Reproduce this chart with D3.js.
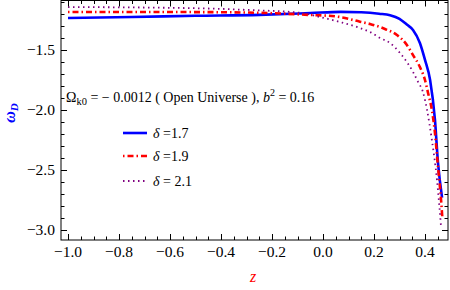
<!DOCTYPE html>
<html>
  <head>
    <meta charset="utf-8">
    <script src="https://cdn.jsdelivr.net/npm/d3@7"></script>
  </head>
  <body style="margin:0">
    <svg id="chart" width="450" height="290" font-family="Liberation Serif" style="font-family: 'Liberation Serif', 'Times New Roman', serif"></svg>
    <script>
// values
var zBlue   = [-1.0, -0.75, -0.5, -0.25, -0.05, 0.07, 0.15, 0.22, 0.263, 0.30, 0.33, 0.353, 0.38, 0.40, 0.42, 0.439, 0.451, 0.467];
var wBlue   = [-1.233, -1.225, -1.215, -1.207, -1.192, -1.182, -1.186, -1.198, -1.21, -1.24, -1.29, -1.333, -1.442, -1.583, -1.75, -2.08, -2.44, -2.73];

var zRed    = [-1.0, -0.5, -0.25, -0.05, 0.05, 0.145, 0.184, 0.243, 0.29, 0.329, 0.353, 0.38, 0.40, 0.412, 0.427, 0.439, 0.451, 0.463, 0.468];
var wRed    = [-1.183, -1.184, -1.19, -1.208, -1.22, -1.264, -1.283, -1.325, -1.375, -1.458, -1.542, -1.642, -1.75, -1.858, -2.0, -2.19, -2.475, -2.75, -2.90];

var zPurple = [-1.0, -0.5, -0.286, -0.09, -0.012, 0.067, 0.145, 0.184, 0.224, 0.263, 0.302, 0.329, 0.353, 0.373, 0.392, 0.408, 0.427, 0.447, 0.463];
var wPurple = [-1.142, -1.152, -1.167, -1.19, -1.225, -1.267, -1.317, -1.35, -1.40, -1.442, -1.525, -1.60, -1.683, -1.767, -1.85, -2.0, -2.25, -2.583, -2.975];

var legendLabels = ["1.7", "1.9", "2.1"];
var xMajor = [-1.0, -0.8, -0.6, -0.4, -0.2, 0.0, 0.2, 0.4];
var yMajor = [-3.0, -2.5, -2.0, -1.5];

var series = [
  { z: zBlue,   w: wBlue,   color: "#0000ff", width: 2.6, dash: null,        label: legendLabels[0] },
  { z: zRed,    w: wRed,    color: "#ff0000", width: 2.6, dash: "1.5,3,6,3", label: legendLabels[1] },
  { z: zPurple, w: wPurple, color: "#800080", width: 1.8, dash: "1.5,3.5",   label: legendLabels[2] }
];

var frame = { left: 61, right: 448, top: 0.5, bottom: 240 };

var x = d3.scaleLinear().domain([-1.0, 0.0]).range([68, 323]);
var y = d3.scaleLinear().domain([-1.5, -3.0]).range([50, 230]);

var svg = d3.select("#chart");

// all text goes through here so the serif face is set on every element
function label(parent, size) {
  return parent.append("text")
    .attr("font-family", "Liberation Serif")
    .style("font-family", "'Liberation Serif', 'Times New Roman', serif")
    .style("font-size", size + "px");
}

svg.append("clipPath").attr("id", "clip")
  .append("rect")
    .attr("x", frame.left).attr("y", frame.top)
    .attr("width", frame.right - frame.left).attr("height", frame.bottom - frame.top);

// curves
var line = d3.line()
  .x(function(d) { return x(d[0]); })
  .y(function(d) { return y(d[1]); })
  .curve(d3.curveMonotoneX);

series.forEach(function(s) {
  var pts = s.z.map(function(v, i) { return [v, s.w[i]]; });
  svg.append("path")
    .datum(pts)
    .attr("clip-path", "url(#clip)")
    .attr("fill", "none")
    .attr("stroke", s.color)
    .attr("stroke-width", s.width)
    .attr("stroke-dasharray", s.dash)
    .attr("d", line);
});

// frame
svg.append("rect")
  .attr("x", frame.left).attr("y", frame.top)
  .attr("width", frame.right - frame.left).attr("height", frame.bottom - frame.top)
  .attr("fill", "none").attr("stroke", "#000").attr("stroke-width", 1);

// ticks (inward, on all four sides)
var xMinor = d3.range(-1.0, 0.4901, 0.05).filter(function(v) { return x(v) >= frame.left && x(v) <= frame.right; });
var yMinor = d3.range(-3.0, -1.0, 0.1).filter(function(v) { return y(v) >= frame.top && y(v) <= frame.bottom; });
function isMajor(v, arr) { return arr.some(function(m) { return Math.abs(m - v) < 1e-6; }); }

var tk = svg.append("g").attr("stroke", "#000").attr("stroke-width", 1);
xMinor.forEach(function(v) {
  var len = isMajor(v, xMajor) ? 6 : 3.5;
  var px = Math.round(x(v)) + 0.5;
  tk.append("line").attr("x1", px).attr("x2", px).attr("y1", frame.bottom).attr("y2", frame.bottom - len);
  tk.append("line").attr("x1", px).attr("x2", px).attr("y1", frame.top).attr("y2", frame.top + len);
});
yMinor.forEach(function(v) {
  var len = isMajor(v, yMajor) ? 6 : 3.5;
  var py = Math.round(y(v)) + 0.5;
  tk.append("line").attr("y1", py).attr("y2", py).attr("x1", frame.left).attr("x2", frame.left + len);
  tk.append("line").attr("y1", py).attr("y2", py).attr("x1", frame.right).attr("x2", frame.right - len);
});

function fmt(v) { return (v < 0 ? "\u2212" : "") + Math.abs(v).toFixed(1); }

var gx = svg.append("g");
xMajor.forEach(function(v) {
  label(gx, 15.5)
    .attr("x", x(v)).attr("y", 257)
    .attr("text-anchor", "middle")
    .text(fmt(v));
});

var gy = svg.append("g");
yMajor.forEach(function(v) {
  label(gy, 15.5)
    .attr("x", 55).attr("y", y(v) + 5)
    .attr("text-anchor", "end")
    .text(fmt(v));
});

// axis labels
label(svg, 16)
  .attr("x", 253).attr("y", 282)
  .attr("text-anchor", "middle")
  .style("font-style", "italic")
  .attr("fill", "#ff0000")
  .text("z");

var yl = label(svg, 16)
  .attr("transform", "translate(15,113) rotate(-90)")
  .attr("text-anchor", "middle")
  .style("font-style", "italic").style("font-weight", "bold")
  .attr("fill", "#0000ff");
yl.append("tspan").text("\u03c9");
yl.append("tspan").style("font-size", "11px").attr("dy", 3).text("D");

// annotation
var ann = label(svg, 14).attr("x", 66).attr("y", 102);
ann.append("tspan").text("\u03a9");
ann.append("tspan").style("font-size", "10.5px").attr("dy", 3).text("k0");
ann.append("tspan").attr("dy", -3).text(" = \u2212 0.0012 ( Open Universe ),  ");
ann.append("tspan").style("font-style", "italic").text("b");
ann.append("tspan").style("font-size", "10px").attr("dy", -6).text("2");
ann.append("tspan").attr("dy", 6).text(" = 0.16");

// legend
var lg = svg.append("g");
var legendY = [133, 156, 181];
series.forEach(function(s, i) {
  lg.append("line")
    .attr("x1", 123).attr("x2", 147)
    .attr("y1", legendY[i]).attr("y2", legendY[i])
    .attr("stroke", s.color)
    .attr("stroke-width", s.width)
    .attr("stroke-dasharray", s.dash);
  var t = label(lg, 14).attr("x", 153).attr("y", legendY[i] + 4.5);
  t.append("tspan").style("font-style", "italic").text("\u03b4");
  t.append("tspan").text(i < 2 ? " =" + s.label : " = " + s.label);
});
    </script>
  </body>
</html>
